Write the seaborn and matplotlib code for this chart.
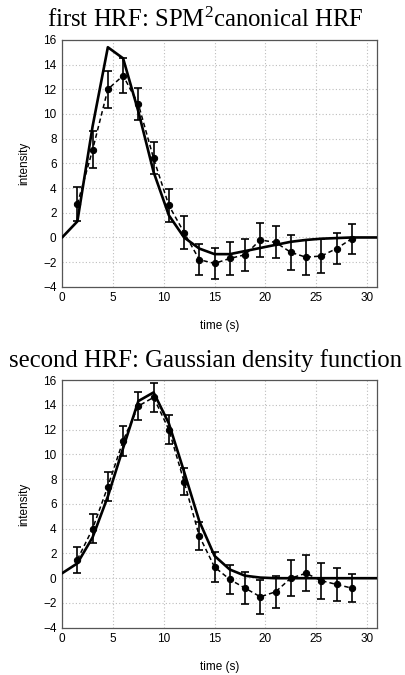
import numpy as np
import pandas as pd
import matplotlib
matplotlib.use("Agg")
import matplotlib.pyplot as plt
import seaborn as sns

# ------------------------------------
# Data
# ------------------------------------
t_obs = [1.5, 3, 4.5, 6, 7.5, 9, 10.5, 12, 13.5, 15, 16.5, 18, 19.5, 21, 22.5, 24, 25.5, 27, 28.5]

obs_first = [2.7, 7.1, 12.0, 13.1, 10.8, 6.4, 2.6, 0.4, -1.8, -2.1, -1.7, -1.4, -0.2, -0.4, -1.2, -1.6, -1.5, -0.9, -0.1]
err_first = [1.4, 1.5, 1.5, 1.4, 1.3, 1.3, 1.35, 1.3, 1.25, 1.25, 1.3, 1.3, 1.35, 1.3, 1.4, 1.4, 1.35, 1.25, 1.2]

obs_second = [1.5, 4.0, 7.4, 11.1, 13.9, 14.6, 12.0, 7.8, 3.4, 0.9, -0.1, -0.8, -1.5, -1.1, 0.0, 0.4, -0.2, -0.5, -0.8]
err_second = [1.05, 1.15, 1.2, 1.2, 1.15, 1.15, 1.2, 1.1, 1.1, 1.2, 1.2, 1.3, 1.35, 1.3, 1.45, 1.45, 1.45, 1.3, 1.15]

t_fit = [0, 1.5, 3, 4.5, 6, 7.5, 9, 10.5, 12, 13.5, 15, 16.5, 18, 19.5, 21, 22.5, 24, 25.5, 27, 28.5, 30, 31]
fit_first = [0.0, 1.3, 9.0, 15.4, 14.5, 10.2, 5.3, 1.8, 0.0, -0.9, -1.35, -1.35, -1.1, -0.85, -0.6, -0.35, -0.2, -0.1, -0.05, 0.0, 0.0, 0.0]
fit_second = [0.4, 1.2, 3.3, 6.6, 10.5, 14.3, 15.0, 12.5, 8.6, 4.6, 1.8, 0.7, 0.2, 0.05, 0.0, 0.0, 0.0, 0.0, 0.0, 0.0, 0.0, 0.0]

titles = ["first HRF: SPM$^2$canonical HRF", "second HRF: Gaussian density function"]

# ------------------------------------
# Style
# ------------------------------------
sns.set_style("white")
plt.rcParams["font.family"] = ["Liberation Sans", "DejaVu Sans"]
plt.rcParams["mathtext.fontset"] = "custom"
plt.rcParams["mathtext.rm"] = "Liberation Serif"
plt.rcParams["mathtext.it"] = "Liberation Serif:italic"
for key in ["text.color", "axes.labelcolor", "xtick.color", "ytick.color"]:
    plt.rcParams[key] = "black"

fig = plt.figure(figsize=(4.06, 6.75), dpi=100)
ax1 = fig.add_axes([0.153, 0.575, 0.776, 0.366])
ax2 = fig.add_axes([0.153, 0.070, 0.776, 0.367])

panels = [
    (ax1, obs_first, err_first, fit_first, titles[0], 0.971),
    (ax2, obs_second, err_second, fit_second, titles[1], 0.466),
]

for ax, obs, err, fit, title, title_y in panels:
    fit_df = pd.DataFrame({"time": t_fit, "intensity": fit})
    obs_df = pd.DataFrame({"time": t_obs, "intensity": obs})

    sns.lineplot(data=fit_df, x="time", y="intensity", ax=ax,
                 color="black", linewidth=1.9, zorder=3)
    sns.lineplot(data=obs_df, x="time", y="intensity", ax=ax,
                 color="black", linewidth=1.1, linestyle=(0, (3, 2)),
                 marker="o", markersize=4.5, markeredgecolor="black", zorder=4)
    ax.errorbar(t_obs, obs, yerr=err, fmt="none", ecolor="black",
                elinewidth=1.2, capsize=3, capthick=1.2, zorder=4)

    ax.set_xlim(0, 31)
    ax.set_ylim(-4, 16)
    ax.set_xticks([0, 5, 10, 15, 20, 25, 30])
    ax.set_yticks(np.arange(-4, 17, 2))
    ax.grid(True, color="#bdbdbd", linestyle=(0, (1, 2)), linewidth=0.8)
    ax.tick_params(direction="in", length=3, labelsize=8.5, pad=4)
    for spine in ax.spines.values():
        spine.set_color("#555555")
        spine.set_linewidth(0.9)

    ax.set_xlabel("time (s)", fontsize=8.5, labelpad=11)
    ax.set_ylabel("intensity", fontsize=8.5, labelpad=9)

    # title centred on the figure, not the axes
    fig.text(0.505, title_y, title, fontsize=17.8, family="Liberation Serif",
             ha="center", va="center")

fig.savefig("out.png", dpi=100)
plt.close()
